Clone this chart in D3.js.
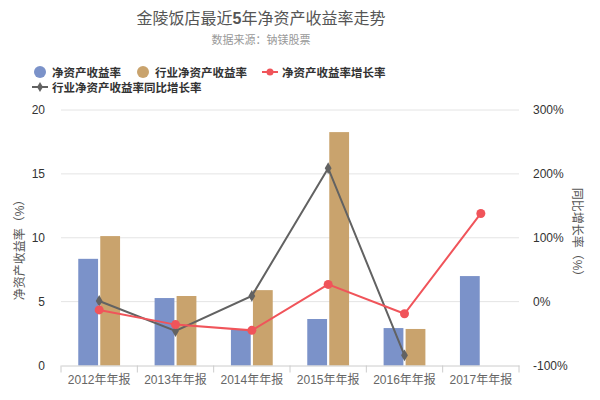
<!DOCTYPE html>
<html lang="zh">
<head>
<meta charset="UTF-8">
<script src="https://cdnjs.cloudflare.com/ajax/libs/d3/7.8.5/d3.min.js"></script>
<style>
  body { margin: 0; background: #fff; }
  text { font-family: "Liberation Sans", Arial, "Noto Sans CJK SC", sans-serif; }
</style>
</head>
<body>
<div id="chart"></div>
<script>
// data
let years = ["2012年年报", "2013年年报", "2014年年报", "2015年年报", "2016年年报", "2017年年报"];
let roe = [8.35, 5.28, 2.83, 3.64, 2.93, 7.0];
let industryRoe = [10.13, 5.44, 5.9, 18.27, 2.86, null];
let roeGrowth = [-13, -36, -45, 27, -19, 138];
let industryGrowth = [1, -46, 9, 209, -84, null];
let leftTicks = [0, 5, 10, 15, 20];
let rightTicks = [-100, 0, 100, 200, 300];

let width = 600, height = 400;
let mLeft = 61, mRight = 519, mTop = 110, mBottom = 365.5;

let blue = "#7b92c9", tan = "#c9a36d", red = "#f0545a", gray = "#626262";

let svg = d3.select("#chart").append("svg")
  .attr("width", width).attr("height", height);

let x = d3.scaleBand().domain(years).range([mLeft, mRight]);
let xSub = d3.scaleBand().domain(["a", "b"]).range([-22, 22]).paddingInner(0.1).paddingOuter(0.05);
let y = d3.scaleLinear().domain([0, 20]).range([mBottom, mTop]);
let y2 = d3.scaleLinear().domain([-100, 300]).range([mBottom, mTop]);

let cx = i => x(years[i]) + x.bandwidth() / 2;
// pair each value with its index, drop the gaps
let pts = arr => arr.map((v, i) => ({ v: v, i: i })).filter(d => d.v !== null);

// title
let title = svg.append("text").attr("x", 261).attr("y", 24).attr("text-anchor", "middle")
  .attr("font-size", 16).attr("fill", "#555");
title.append("tspan").text("金陵饭店最近");
title.append("tspan").attr("font-weight", "bold").text("5");
title.append("tspan").text("年净资产收益率走势");
svg.append("text").attr("x", 261).attr("y", 44).attr("text-anchor", "middle")
  .attr("font-size", 11).attr("fill", "#999").text("数据来源：钠镁股票");

// gridlines
svg.append("g").selectAll("line").data(leftTicks.slice(1)).enter().append("line")
  .attr("x1", mLeft).attr("x2", mRight)
  .attr("y1", d => y(d)).attr("y2", d => y(d))
  .attr("stroke", "#e4e4e4").attr("stroke-width", 1);

// left axis
let yAxis = svg.append("g").attr("transform", `translate(${mLeft},0)`)
  .call(d3.axisLeft(y).tickValues(leftTicks).tickSize(0).tickPadding(16));
yAxis.select(".domain").remove();
yAxis.selectAll("text").attr("font-size", 12).attr("fill", "#333");

// right axis
let y2Axis = svg.append("g").attr("transform", `translate(${mRight},0)`)
  .call(d3.axisRight(y2).tickValues(rightTicks).tickSize(0).tickPadding(14).tickFormat(d => d + "%"));
y2Axis.select(".domain").remove();
y2Axis.selectAll("text").attr("font-size", 12).attr("fill", "#333");

// axis titles
svg.append("text").attr("transform", "translate(24,247) rotate(-90)")
  .attr("text-anchor", "middle").attr("font-size", 12).attr("fill", "#555")
  .text("净资产收益率（%）");
svg.append("text").attr("transform", "translate(573,235) rotate(90)")
  .attr("text-anchor", "middle").attr("font-size", 12).attr("fill", "#555")
  .text("同比增长率（%）");

// bars
svg.append("g").selectAll("rect").data(pts(roe)).enter().append("rect")
  .attr("x", d => cx(d.i) + xSub("a"))
  .attr("width", xSub.bandwidth())
  .attr("y", d => y(d.v)).attr("height", d => y(0) - y(d.v))
  .attr("fill", blue);
svg.append("g").selectAll("rect").data(pts(industryRoe)).enter().append("rect")
  .attr("x", d => cx(d.i) + xSub("b"))
  .attr("width", xSub.bandwidth())
  .attr("y", d => y(d.v)).attr("height", d => y(0) - y(d.v))
  .attr("fill", tan);

// x axis
let xAxis = svg.append("g").attr("transform", `translate(0,${mBottom})`)
  .call(d3.axisBottom(x).tickSize(0).tickPadding(10));
xAxis.select(".domain").attr("stroke", "#ccc");
xAxis.selectAll("text").attr("font-size", 12).attr("fill", "#666");
svg.append("g").selectAll("line").data(d3.range(years.length + 1)).enter().append("line")
  .attr("x1", i => mLeft + i * x.step()).attr("x2", i => mLeft + i * x.step())
  .attr("y1", mBottom).attr("y2", mBottom + 7)
  .attr("stroke", "#ccc");

// growth lines
let line = d3.line().x(d => cx(d.i)).y(d => y2(d.v));
svg.append("path").datum(pts(industryGrowth)).attr("d", line)
  .attr("fill", "none").attr("stroke", gray).attr("stroke-width", 2);
svg.append("g").selectAll("path").data(pts(industryGrowth)).enter().append("path")
  .attr("d", d3.symbol().type(d3.symbolDiamond).size(40))
  .attr("transform", d => `translate(${cx(d.i)},${y2(d.v)})`)
  .attr("fill", gray);

svg.append("path").datum(pts(roeGrowth)).attr("d", line)
  .attr("fill", "none").attr("stroke", red).attr("stroke-width", 2);
svg.append("g").selectAll("circle").data(pts(roeGrowth)).enter().append("circle")
  .attr("cx", d => cx(d.i)).attr("cy", d => y2(d.v)).attr("r", 4.5)
  .attr("fill", red);

// legend
let legendItems = [
  { name: "净资产收益率", color: blue, type: "dot", x: 40, y: 72 },
  { name: "行业净资产收益率", color: tan, type: "dot", x: 143, y: 72 },
  { name: "净资产收益率增长率", color: red, type: "line", x: 270, y: 72 },
  { name: "行业净资产收益率同比增长率", color: gray, type: "diamond", x: 40, y: 87 }
];
let lg = svg.append("g").selectAll("g").data(legendItems).enter().append("g")
  .attr("transform", d => `translate(${d.x},${d.y})`);
lg.filter(d => d.type === "dot").append("circle").attr("r", 6).attr("fill", d => d.color);
lg.filter(d => d.type !== "dot").append("line")
  .attr("x1", -8).attr("x2", 8).attr("stroke", d => d.color).attr("stroke-width", 2);
lg.filter(d => d.type === "line").append("circle").attr("r", 3.5).attr("fill", d => d.color);
lg.filter(d => d.type === "diamond").append("path")
  .attr("d", d3.symbol().type(d3.symbolDiamond).size(30)).attr("fill", d => d.color);
lg.append("text").attr("x", 12).attr("y", 4.5)
  .attr("font-size", 11.5).attr("font-weight", "bold").attr("fill", "#333")
  .text(d => d.name);
</script>
</body>
</html>
